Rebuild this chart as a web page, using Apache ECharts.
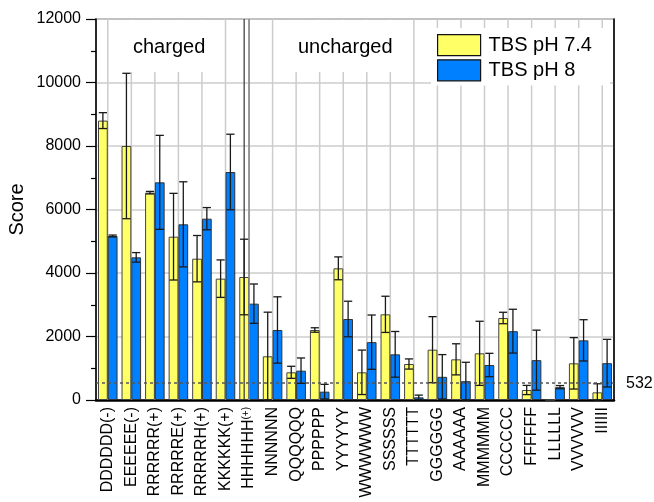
<!DOCTYPE html>
<html>
<head>
<meta charset="utf-8">
<script src="https://cdn.jsdelivr.net/npm/echarts@6/dist/echarts.min.js"></script>
<style>
  html, body { margin: 0; padding: 0; background: #fff; }
  #chart { width: 654px; height: 502px; }
</style>
</head>
<body>
<div id="chart"></div>
<script>
// Peptide repeats; charge state noted in brackets
const categories = ['DDDDDD(-)', 'EEEEEE(-)', 'RRRRRR(+)', 'RRRRRE(+)', 'RRRRRH(+)', 'KKKKKK(+)', 'HHHHHH(+)',
  'NNNNNN', 'QQQQQQ', 'PPPPPP', 'YYYYYY', 'WWWWWW', 'SSSSSS', 'TTTTTT', 'GGGGGG', 'AAAAAA',
  'MMMMMM', 'CCCCCC', 'FFFFFF', 'LLLLLL', 'VVVVVV', 'IIIIII'];

const seriesNames = ['TBS pH 7.4', 'TBS pH 8'];

// Mean scores and their errors
const scorePH74 = [8800, 8000, 6530, 5144, 4451, 3822, 3874, 1376, 872, 2205, 4147, 872, 2698, 1134, 1585, 1281, 1470, 2583, 315, 0, 1155, 241];
const errorPH74 = [250, 2290, 40, 1365, 730, 590, 1190, 1390, 190, 70, 360, 700, 570, 160, 1040, 490, 1010, 180, 145, 0, 810, 270];
const scorePH8 = [5165, 4493, 6855, 5533, 5711, 7181, 3034, 2205, 924, 262, 2551, 1822, 1438, 84, 730, 593, 1102, 2168, 1255, 405, 1879, 1160];
const errorPH8 = [30, 150, 1480, 1340, 350, 1190, 620, 1045, 400, 230, 560, 855, 720, 70, 700, 595, 368, 690, 945, 50, 650, 750];

// Background threshold
const threshold = 532;

const yTicks = { min: 0, max: 12000, interval: 2000 };
const groupLabels = ['charged', 'uncharged'];
const dividerCategory = 'HHHHHH(+)';

const FONT = '"Liberation Sans", Arial, sans-serif';
const CATEGORY_GAP = 0.17;

function errorBars(offsetSign) {
  return function (params, api) {
    const idx = api.value(0);
    const v = api.value(1);
    const e = api.value(2);
    if (!e) return null;
    const band = api.size([1, 0])[0];
    const bw = band * (1 - CATEGORY_GAP) / 2;
    const x = api.coord([idx, v])[0] + offsetSign * bw / 2;
    const yTop = api.coord([idx, v + e])[1];
    const yBot = api.coord([idx, Math.max(0, v - e)])[1];
    const cap = bw * 0.42;
    const style = { stroke: '#1a1a1a', lineWidth: 1.3 };
    return {
      type: 'group',
      children: [
        { type: 'line', shape: { x1: x, y1: yTop, x2: x, y2: yBot }, style },
        { type: 'line', shape: { x1: x - cap, y1: yTop, x2: x + cap, y2: yTop }, style },
        { type: 'line', shape: { x1: x - cap, y1: yBot, x2: x + cap, y2: yBot }, style }
      ]
    };
  };
}

// Vertical grid line through each category centre
function categoryGrid(params, api) {
  const idx = api.value(0);
  const cs = params.coordSys;
  const xc = api.coord([idx, 0])[0];
  return {
    type: 'line',
    shape: { x1: xc, y1: cs.y, x2: xc, y2: cs.y + cs.height },
    style: { stroke: '#ccc', lineWidth: 1.5 }
  };
}

function divider(params, api) {
  const idx = api.value(0);
  const cs = params.coordSys;
  const band = api.size([1, 0])[0];
  const bw = band * (1 - CATEGORY_GAP) / 2;
  const xc = api.coord([idx, 0])[0];
  return {
    type: 'group',
    children: [
      { type: 'line', shape: { x1: xc, y1: cs.y, x2: xc, y2: cs.y + cs.height }, style: { stroke: '#888', lineWidth: 1.6 } },
      { type: 'line', shape: { x1: xc - bw / 2, y1: cs.y, x2: xc - bw / 2, y2: cs.y + cs.height }, style: { stroke: '#333', lineWidth: 1.2 } }
    ]
  };
}

const chart = echarts.init(document.getElementById('chart'), null, { renderer: 'canvas' });

const option = {
  animation: false,
  backgroundColor: '#fff',
  textStyle: { fontFamily: FONT, color: '#000' },
  grid: {
    left: 96, right: 40, top: 19, bottom: 102,
    containLabel: false, outerBoundsMode: 'none',
    show: true, borderColor: '#888', borderWidth: 1.5, backgroundColor: 'transparent'
  },
  legend: {
    data: seriesNames,
    orient: 'vertical',
    left: 431, top: 28,
    backgroundColor: '#fff',
    padding: [6, 18, 4, 6],
    itemWidth: 43, itemHeight: 21, itemGap: 3,
    icon: 'rect',
    itemStyle: { borderColor: '#111', borderWidth: 1.2 },
    textStyle: { fontSize: 20, fontFamily: FONT, color: '#000', padding: [0, 0, 0, 3] }
  },
  xAxis: {
    type: 'category',
    data: categories,
    axisLine: { lineStyle: { color: '#000', width: 2.5 } },
    axisTick: { show: false },
    splitLine: { show: false },
    axisLabel: {
      rotate: 90, interval: 0, fontSize: 16, margin: 7, color: '#000', fontFamily: FONT,
      formatter: function (v) {
        const m = v.match(/^(H+)\(\+\)$/);
        return m ? m[1] + '{sup|(+)}' : v;
      },
      rich: { sup: { fontSize: 10, verticalAlign: 'top', fontFamily: FONT, color: '#000' } }
    }
  },
  yAxis: [{
    type: 'value',
    min: yTicks.min, max: yTicks.max, interval: yTicks.interval,
    name: 'Score', nameLocation: 'middle', nameGap: 69, nameRotate: 90, nameMoveOverlap: false,
    nameTextStyle: { fontSize: 20, fontFamily: FONT, color: '#000' },
    axisLine: { show: true, lineStyle: { color: '#000', width: 1.5 } },
    axisTick: { show: true, length: 10, lineStyle: { color: '#000', width: 1.2 } },
    minorTick: { show: true, splitNumber: 2, length: 5, lineStyle: { color: '#000', width: 1.2 } },
    splitLine: { show: true, lineStyle: { color: '#ccc', width: 1.5 } },
    axisLabel: { fontSize: 16, margin: 15, color: '#000', fontFamily: FONT, formatter: v => String(v) }
  }, {
    type: 'value',
    position: 'right',
    min: yTicks.min, max: yTicks.max, interval: yTicks.interval,
    axisLine: { show: true, lineStyle: { color: '#000', width: 1.5 } },
    axisTick: { show: false },
    axisLabel: { show: false },
    splitLine: { show: false }
  }],
  series: [
    {
      type: 'custom', name: 'grid', renderItem: categoryGrid, silent: true, z: 1,
      data: categories.map((c, i) => [i]), encode: { x: 0 }
    },
    {
      name: seriesNames[0], type: 'bar', data: scorePH74,
      barGap: '0%', barCategoryGap: (CATEGORY_GAP * 100) + '%',
      itemStyle: { color: '#FFFF66', borderColor: '#444', borderWidth: 1 }
    },
    {
      name: seriesNames[1], type: 'bar', data: scorePH8,
      itemStyle: { color: '#0080FF', borderColor: '#333', borderWidth: 1 }
    },
    {
      type: 'custom', name: 'divider', renderItem: divider, silent: true,
      data: [[categories.indexOf(dividerCategory)]], encode: { x: 0 }, z: 3
    },
    {
      type: 'custom', name: 'err74', renderItem: errorBars(-1), silent: true, z: 4,
      data: scorePH74.map((v, i) => [i, v, errorPH74[i]]), encode: { x: 0, y: 1 }
    },
    {
      type: 'custom', name: 'err8', renderItem: errorBars(1), silent: true, z: 5,
      data: scorePH8.map((v, i) => [i, v, errorPH8[i]]), encode: { x: 0, y: 1 },
      markLine: {
        silent: true, symbol: 'none',
        lineStyle: { color: '#555', type: [3, 3], width: 1.5 },
        label: { show: true, position: 'end', distance: 12, formatter: String(threshold), fontSize: 16, color: '#000', fontFamily: FONT },
        data: [{ yAxis: threshold }]
      }
    }
  ],
  graphic: [
    {
      type: 'text', left: 127, top: 20, z: 10,
      style: { text: groupLabels[0], font: '20px ' + FONT, fill: '#000', backgroundColor: '#fff', padding: [17, 6, 15, 6] }
    },
    {
      type: 'text', left: 295, top: 20, z: 10,
      style: { text: groupLabels[1], font: '20px ' + FONT, fill: '#000', backgroundColor: '#fff', padding: [17, 14, 15, 3] }
    }
  ]
};

chart.setOption(option);
</script>
</body>
</html>
